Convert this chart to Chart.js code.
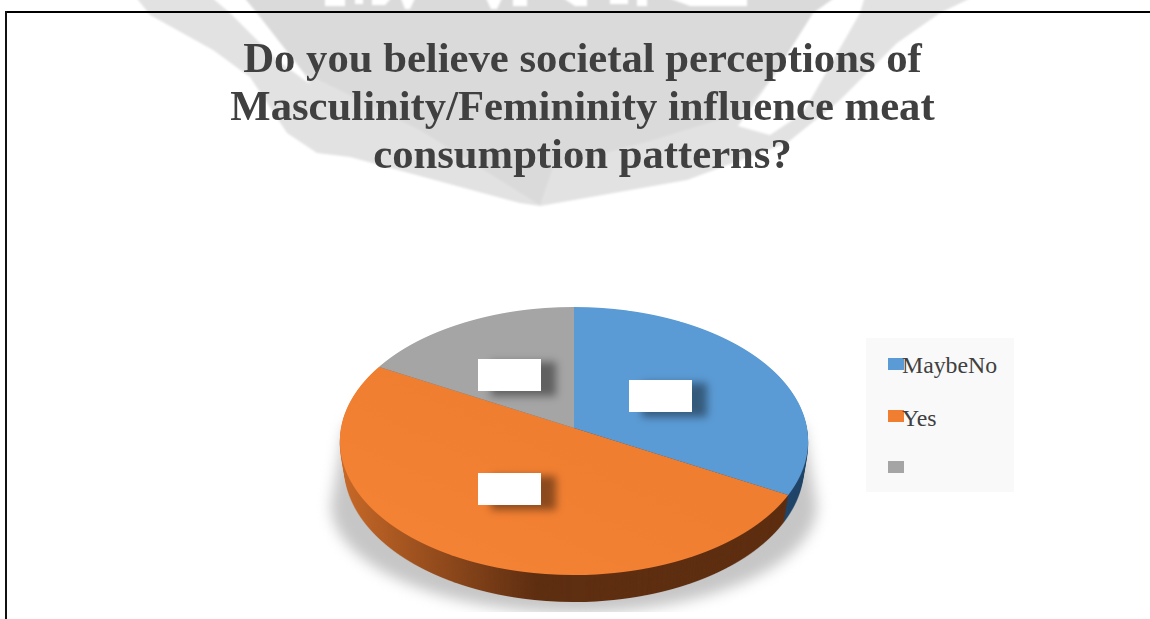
<!DOCTYPE html>
<html>
<head>
<meta charset="utf-8">
<title>Societal perceptions pie</title>
<script src="https://cdn.jsdelivr.net/npm/chart.js@4"></script>
<style>
    html, body { margin: 0; padding: 0; background: #fff; overflow: hidden; }
    #page { position: relative; width: 1150px; height: 619px; overflow: hidden; }
    #watermark { position: absolute; left: 0; top: 0; }
    #barTop { position: absolute; left: 5px; top: 11px; width: 1145px; height: 2px; background: #000; }
    #barLeft { position: absolute; left: 5px; top: 11px; width: 2px; height: 608px; background: #111; }
    canvas { position: absolute; left: 0; top: 0; }
    #legend { position: absolute; left: 866px; top: 338px; width: 148px; height: 154px; background: #f9f9f9;
        font-family: 'Liberation Serif', serif; font-size: 23.8px; color: #404040; }
    #legend .swatch { position: absolute; left: 22px; width: 16px; height: 12px; }
    #legend .name { position: absolute; left: 36px; line-height: 26px; white-space: nowrap; }
    .labelBox { position: absolute; width: 63px; height: 32px; background: #fff;
        box-shadow: 14px 4px 8px 1px rgba(0, 0, 0, 0.42); }
</style>
</head>
<body>
<div id="page">
    <svg id="watermark" width="1150" height="230">
        <defs><filter id="soft"><feGaussianBlur stdDeviation="1.1"/></filter></defs>
        <g filter="url(#soft)">
            <polygon fill="#e2e2e2" points="135,-4 150,15 213,50 250,77 287,133 317,153 350,157 520,203 540,206 557,203 687,180 787,143 840,100 897,43 940,13 975,-4"/>
            <polygon fill="#fff" points="210,-4 243,-4 257,13 303,72 310,84 277,60 230,13"/>
            <polygon fill="#fff" points="837,-4 865,-4 860,13 803,113 770,135 738,126 773,77 813,13"/>
            <polygon fill="#dadada" points="243,-4 257,13 303,72 420,130 540,205 553,167 653,140 740,113 773,77 813,13 837,-4"/>
            <g fill="#fff">
                <rect x="325" y="-4" width="20" height="10"/>
                <rect x="355" y="-4" width="8" height="8"/>
                <polygon points="372,-4 393,-4 385,5 372,5"/>
                <polygon points="400,-4 416,-4 410,9 405,9"/>
                <polygon points="485,-4 503,-4 497,9 491,9"/>
                <rect x="513" y="-4" width="14" height="10"/>
                <polygon points="560,-4 587,-4 587,6 575,6"/>
                <rect x="610" y="-4" width="18" height="8"/>
                <rect x="637" y="-4" width="10" height="10"/>
                <polygon points="663,-4 747,-4 747,6 690,6"/>
            </g>
        </g>
    </svg>
    <div id="barTop"></div>
    <div id="barLeft"></div>
    <canvas id="pieChart" width="1150" height="619"></canvas>
    <div id="legend"></div>
    <div class="labelBox" style="left:478px;top:359px"></div>
    <div class="labelBox" style="left:629px;top:380px"></div>
    <div class="labelBox" style="left:478px;top:473px"></div>
</div>
<script>
const categories = ['MaybeNo', 'Yes', ''];
const shares = [33, 50, 17];
const titleLines = [
    'Do you believe societal perceptions of',
    'Masculinity/Femininity influence meat',
    'consumption patterns?'
];
const sliceColors = ['#5b9bd5', '#f07e31', '#a5a5a5'];
const wallColors = ['#23476a', '#5f2f12', '#666666'];

// where the tilted pie lands on the page
const apexX = 574, apexY = 428;
const halfWidth = 233, upReach = 121, downReach = 147, wallDepth = 27;
const tilt = (upReach - downReach) / (upReach + downReach);
const spread = upReach * (1 - tilt);

// paint the arcs one pixel row at a time through a perspective squash
function paintFace(target, arcs, colors) {
    const R = arcs[0].outerRadius, ax = arcs[0].x, ay = arcs[0].y;
    for (let row = apexY - upReach - 1; row <= apexY + downReach + 1; row++) {
        const Y = row + 0.5 - apexY;
        const v = Y / (spread - tilt * Y);
        if (Math.abs(v) > 1.02) continue;
        const w = 1 + tilt * v;
        const sx = halfWidth / (R * w);
        const sy = spread / (R * w * w);
        target.save();
        target.beginPath();
        target.rect(0, row, target.canvas.width, 1);
        target.clip();
        target.setTransform(sx, 0, 0, sy, apexX - sx * ax, row + 0.5 - sy * (ay + v * R));
        arcs.forEach((arc, i) => {
            const keep = arc.options;
            arc.options = Object.assign({}, keep, { backgroundColor: colors[i] });
            arc.draw(target);
            arc.options = keep;
        });
        target.restore();
    }
}

function layer(chart) {
    const c = document.createElement('canvas');
    c.width = chart.width;
    c.height = chart.height;
    return c.getContext('2d');
}

const tiltedPie = {
    id: 'tiltedPie',
    beforeDatasetsDraw(chart) {
        const arcs = chart.getDatasetMeta(0).data;
        const ctx = chart.ctx;
        const W = chart.width, H = chart.height;

        // soft ground shadow, cut off where the source picture ended
        ctx.save();
        ctx.beginPath();
        ctx.rect(0, 0, W, 612);
        ctx.clip();
        ctx.filter = 'blur(7px)';
        ctx.fillStyle = '#c6c6c6';
        ctx.beginPath();
        ctx.moveTo(345, 425);
        ctx.lineTo(331, 505);
        ctx.ellipse(apexX, 505, 243, 108, 0, Math.PI, 0, true);
        ctx.lineTo(803, 425);
        ctx.closePath();
        ctx.fill();
        ctx.restore();

        // side wall: stack the dark face downwards, narrowing a little, then light its left end
        const flat = layer(chart);
        paintFace(flat, arcs, wallColors);
        const wall = layer(chart);
        for (let d = wallDepth; d >= 1; d--) {
            const s = 1 - 0.02 * d / wallDepth;
            wall.drawImage(flat.canvas, apexX * (1 - s), d, W * s, H);
        }
        wall.globalCompositeOperation = 'source-atop';
        const glow = wall.createLinearGradient(340, 0, 535, 0);
        glow.addColorStop(0, 'rgba(200,105,40,1)');
        glow.addColorStop(1, 'rgba(200,105,40,0)');
        wall.fillStyle = glow;
        wall.fillRect(340, 420, 195, 200);
        ctx.drawImage(wall.canvas, 0, 0);

        // top face
        const face = layer(chart);
        paintFace(face, arcs, sliceColors);
        face.globalCompositeOperation = 'source-atop';
        const sheen = face.createLinearGradient(400, 575, 480, 400);
        sheen.addColorStop(0, 'rgba(255,140,60,0.35)');
        sheen.addColorStop(1, 'rgba(255,140,60,0)');
        face.fillStyle = sheen;
        face.fillRect(0, 0, W, H);
        ctx.drawImage(face.canvas, 0, 0);
        return false;
    }
};

new Chart(document.getElementById('pieChart').getContext('2d'), {
    type: 'pie',
    data: {
        labels: categories,
        datasets: [{ data: shares, backgroundColor: sliceColors, borderWidth: 0 }]
    },
    options: {
        responsive: false,
        animation: false,
        layout: { padding: { left: 15 } },
        plugins: {
            legend: { display: false },
            tooltip: { enabled: false },
            title: {
                display: true,
                text: titleLines,
                color: '#404040',
                font: { family: "'Liberation Serif', serif", size: 42.7, weight: 'bold', lineHeight: 1.124 },
                padding: { top: 37, bottom: 10 }
            }
        }
    },
    plugins: [tiltedPie]
});

// legend panel
const legendBox = document.getElementById('legend');
categories.forEach((name, i) => {
    const swatch = document.createElement('div');
    swatch.className = 'swatch';
    swatch.style.top = (20 + i * 51.5) + 'px';
    swatch.style.background = sliceColors[i];
    legendBox.appendChild(swatch);
    const text = document.createElement('div');
    text.className = 'name';
    text.style.top = (14 + i * 53) + 'px';
    text.textContent = name;
    legendBox.appendChild(text);
});
</script>
</body>
</html>
